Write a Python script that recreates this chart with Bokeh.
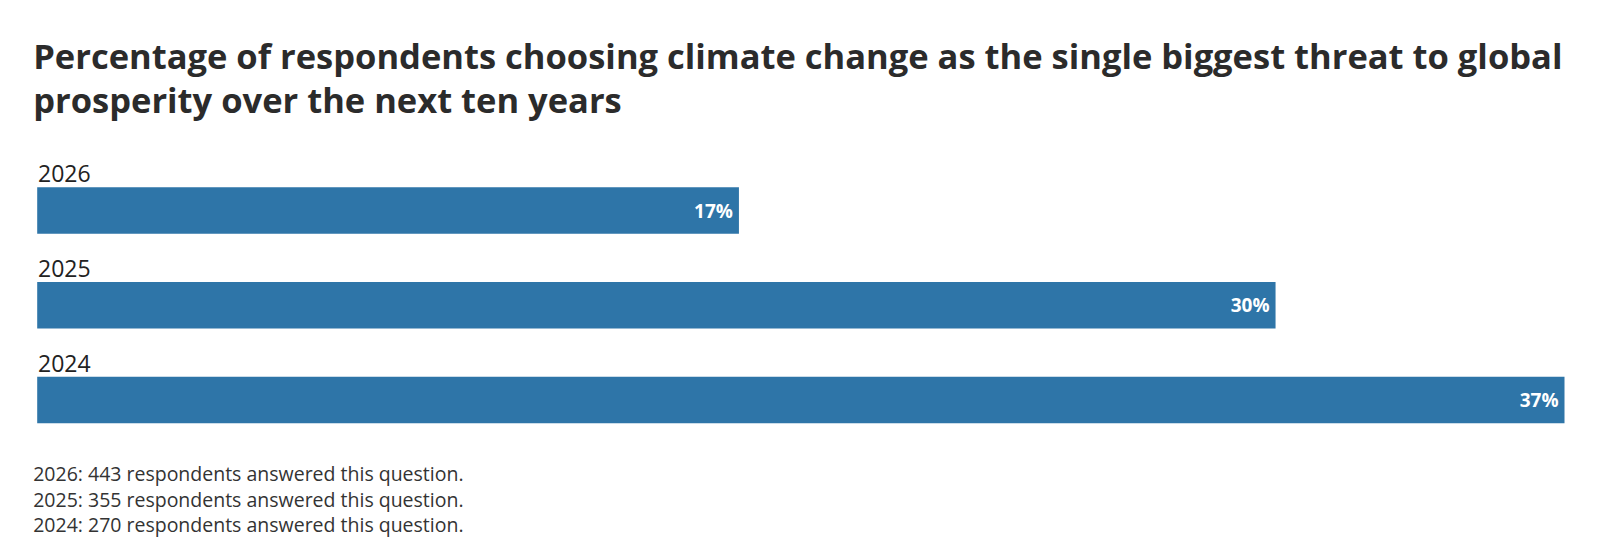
from bokeh.plotting import figure
from bokeh.models import Range1d, ColumnDataSource
from bokeh.core.properties import value
from bokeh.embed import file_html
from bokeh.resources import INLINE

# ---- data ----
years = ["2026", "2025", "2024"]
shares = [17, 30, 37]
share_labels = ["17%", "30%", "37%"]
title_lines = [
    "Percentage of respondents choosing climate change as the single biggest threat to global",
    "prosperity over the next ten years",
]
notes = [
    "2026: 443 respondents answered this question.",
    "2025: 355 respondents answered this question.",
    "2024: 270 respondents answered this question.",
]

# ---- layout ----
W, H = 1584, 538
x0_px, xmax_px = 36.7, 1564        # pixel positions of 0 and max value
scale = (xmax_px - x0_px) / max(shares)

def px(xp):
    return (xp - x0_px) / scale

BAR_COLOR = "#2E75A8"
FONT = value("Open Sans")

p = figure(width=W, height=H, output_backend="svg", toolbar_location=None,
           x_range=Range1d(px(0), px(W)), y_range=Range1d(H, 0),
           x_axis_location=None, y_axis_location=None, min_border=0,
           outline_line_color=None, background_fill_color="white",
           border_fill_color="white")
p.grid.visible = False

first_center, step, bar_h = 210, 94.7, 46.5
centers = [first_center + i * step for i in range(len(years))]

src = ColumnDataSource(dict(y=centers, right=shares, year=years, lab=share_labels,
                            ylab=[c - bar_h / 2 - 13.5 for c in centers],
                            xlab=[s - 6 / scale for s in shares]))
p.hbar(y="y", left=0, right="right", height=bar_h, source=src,
       fill_color=BAR_COLOR, line_color=None)

p.text(x=px(37.5), y="ylab", text="year", source=src, text_font=FONT,
       text_font_size="23px", text_color="#222222", text_baseline="middle")
p.text(x="xlab", y="y", text="lab", source=src, text_font=FONT,
       text_font_size="19px", text_font_style="bold", text_color="white",
       text_align="right", text_baseline="middle")

# title
p.text(x=[px(32.7)] * 2, y=[55, 99], text=title_lines, text_font=FONT,
       text_font_size="34.5px", text_font_style="bold", text_color="#2b2b2b",
       text_baseline="middle")

# notes
p.text(x=[px(32.7)] * 3, y=[473, 498.5, 524], text=notes, text_font=FONT,
       text_font_size="19.5px", text_color="#333333", text_baseline="middle")

open("out.html", "w").write(file_html(p, INLINE))
